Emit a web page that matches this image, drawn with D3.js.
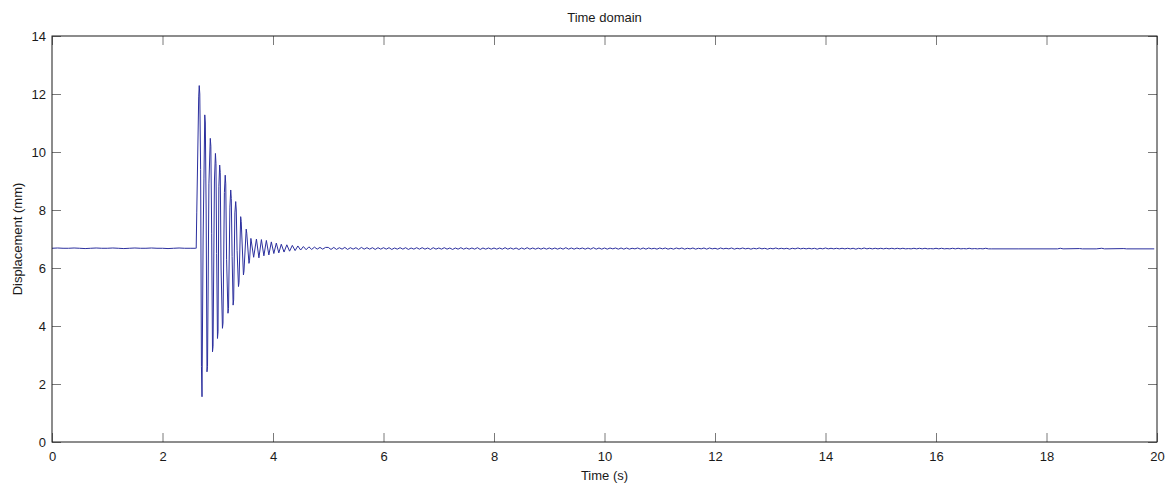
<!DOCTYPE html>
<html>
<head>
<meta charset="utf-8">
<script src="https://cdn.jsdelivr.net/npm/d3@7"></script>
<style>
  body { margin: 0; background: #fff; }
  svg { font-family: "Liberation Sans", Arial, sans-serif; }
</style>
</head>
<body>
<svg id="chart"></svg>
<script>
// ---- data ----
const xTicks = [0, 2, 4, 6, 8, 10, 12, 14, 16, 18, 20];
const yTicks = [0, 2, 4, 6, 8, 10, 12, 14];

// quiet baseline before the impact, one sample every 0.1 s from t = 0
const preValues = [6.68, 6.69, 6.68, 6.68, 6.69, 6.68, 6.67, 6.68, 6.69, 6.68,
                   6.68, 6.69, 6.68, 6.67, 6.68, 6.69, 6.68, 6.68, 6.69, 6.68,
                   6.68, 6.67, 6.68, 6.69, 6.68, 6.68, 6.68];

// the burst: [time (s), displacement (mm)]
const burst = [
  [2.61, 6.68], [2.62, 7.9], [2.655, 11.9], [2.665, 12.29], [2.675, 12.0], [2.69, 9.4],
  [2.705, 2.6], [2.715, 1.56], [2.735, 7.0], [2.75, 9.1], [2.765, 11.28], [2.775, 11.0], [2.79, 8.0],
  [2.805, 2.42], [2.815, 2.6], [2.84, 8.9], [2.865, 10.47], [2.875, 10.2], [2.89, 7.2], [2.905, 3.11],
  [2.915, 3.3], [2.94, 9.0], [2.958, 9.95], [2.968, 9.6], [2.98, 6.5], [2.995, 3.57], [3.005, 3.8],
  [3.02, 8.8], [3.035, 9.55], [3.045, 9.3], [3.06, 6.0], [3.085, 3.92], [3.095, 4.1], [3.12, 8.6],
  [3.135, 9.2], [3.145, 8.9], [3.16, 6.3], [3.185, 4.44], [3.195, 4.6], [3.22, 8.1],
  [3.235, 8.69], [3.245, 8.4], [3.26, 6.4], [3.278, 4.72], [3.288, 4.9], [3.31, 7.9],
  [3.325, 8.29], [3.335, 8.0], [3.35, 6.6], [3.375, 5.36], [3.385, 5.5],
  [3.415, 7.77], [3.425, 7.6], [3.465, 5.76], [3.475, 5.9], [3.515, 7.34], [3.525, 7.2],
  [3.565, 6.16], [3.575, 6.25], [3.60, 7.02], [3.65, 6.37], [3.70, 7.0], [3.745, 6.35],
  [3.79, 6.98], [3.835, 6.42], [3.88, 6.95], [3.925, 6.45], [3.97, 6.9], [4.015, 6.5],
  [4.06, 6.86], [4.105, 6.52], [4.15, 6.82], [4.2, 6.55], [4.25, 6.8], [4.3, 6.58],
  [4.35, 6.78], [4.4, 6.6], [4.45, 6.76], [4.5, 6.62], [4.55, 6.74],
  [4.6, 6.63], [4.65, 6.73], [4.7, 6.64], [4.75, 6.72], [4.8, 6.65],
  [4.85, 6.71], [4.9, 6.65], [4.95, 6.71]
];

// residual ringing at ~10 Hz: one crest (tailHi) and one trough (tailLo)
// per 0.1 s, crests from t = 5.0 to 16.9
const tailHi = [
  6.71, 6.71, 6.70, 6.71, 6.70, 6.70, 6.71, 6.70, 6.70, 6.70,
  6.70, 6.70, 6.69, 6.70, 6.70, 6.69, 6.70, 6.70, 6.69, 6.70,
  6.69, 6.70, 6.69, 6.69, 6.70, 6.69, 6.69, 6.70, 6.69, 6.69,
  6.69, 6.69, 6.70, 6.69, 6.69, 6.69, 6.70, 6.69, 6.69, 6.69,
  6.69, 6.69, 6.69, 6.70, 6.69, 6.69, 6.69, 6.69, 6.70, 6.69,
  6.69, 6.69, 6.69, 6.69, 6.69, 6.68, 6.69, 6.69, 6.69, 6.68,
  6.69, 6.69, 6.68, 6.69, 6.69, 6.68, 6.69, 6.68, 6.69, 6.69,
  6.68, 6.69, 6.68, 6.69, 6.68, 6.69, 6.68, 6.68, 6.69, 6.68,
  6.68, 6.69, 6.68, 6.68, 6.68, 6.69, 6.68, 6.68, 6.68, 6.68,
  6.69, 6.68, 6.68, 6.68, 6.68, 6.68, 6.68, 6.69, 6.68, 6.68,
  6.68, 6.68, 6.68, 6.68, 6.68, 6.67, 6.68, 6.68, 6.68, 6.67,
  6.68, 6.68, 6.67, 6.68, 6.68, 6.67, 6.68, 6.67, 6.67, 6.68
];
const tailLo = [
  6.64, 6.64, 6.65, 6.64, 6.65, 6.64, 6.65, 6.65, 6.64, 6.65,
  6.65, 6.64, 6.65, 6.65, 6.64, 6.65, 6.65, 6.65, 6.64, 6.65,
  6.65, 6.65, 6.64, 6.65, 6.65, 6.65, 6.65, 6.64, 6.65, 6.65,
  6.65, 6.65, 6.65, 6.65, 6.64, 6.65, 6.65, 6.65, 6.65, 6.65,
  6.65, 6.65, 6.65, 6.65, 6.65, 6.66, 6.65, 6.65, 6.65, 6.65,
  6.65, 6.66, 6.65, 6.65, 6.65, 6.66, 6.65, 6.65, 6.66, 6.65,
  6.66, 6.65, 6.65, 6.66, 6.65, 6.66, 6.65, 6.66, 6.65, 6.66,
  6.65, 6.66, 6.66, 6.65, 6.66, 6.66, 6.65, 6.66, 6.66, 6.65,
  6.66, 6.66, 6.66, 6.65, 6.66, 6.66, 6.66, 6.66, 6.65, 6.66,
  6.66, 6.66, 6.66, 6.66, 6.66, 6.65, 6.66, 6.66, 6.66, 6.66,
  6.66, 6.66, 6.66, 6.66, 6.66, 6.66, 6.66, 6.66, 6.66, 6.66,
  6.66, 6.66, 6.66, 6.66, 6.66, 6.66, 6.66, 6.66, 6.66, 6.66
];

// almost flat end with a few blips
const endPoints = [
  [17.0, 6.66], [17.5, 6.66], [18.2, 6.66], [18.25, 6.68], [18.3, 6.66], [18.6, 6.67],
  [18.65, 6.66], [18.9, 6.66], [19.0, 6.68], [19.05, 6.66], [19.4, 6.67],
  [19.45, 6.66], [19.95, 6.66]
];

// ---- layout ----
const width = 1167, height = 486;
const margin = {top: 36, right: 10, bottom: 44, left: 52};
const plotW = width - margin.left - margin.right;
const plotH = height - margin.top - margin.bottom;

const svg = d3.select('#chart')
  .attr('width', width)
  .attr('height', height);

const x = d3.scaleLinear().domain([0, 20]).range([0, plotW]);
const y = d3.scaleLinear().domain([0, 14]).range([plotH, 0]);

const g = svg.append('g')
  .attr('transform', `translate(${margin.left},${margin.top})`);

// assemble the series
const series = [];
preValues.forEach((v, i) => series.push([i * 0.1, v]));
burst.forEach(d => series.push(d));
tailHi.forEach((v, i) => {
  series.push([5.0 + i * 0.1, v]);
  series.push([5.05 + i * 0.1, tailLo[i]]);
});
endPoints.forEach(d => series.push(d));

g.append('path')
  .datum(series)
  .attr('fill', 'none')
  .attr('stroke', '#2b2f9e')
  .attr('stroke-width', 1)
  .attr('stroke-linejoin', 'round')
  .attr('d', d3.line().x(d => x(d[0])).y(d => y(d[1])));

// axes: ticks pointing inwards on all four sides
const tickLen = 9;
const fmt = d3.format('d');

const axBottom = g.append('g').attr('transform', `translate(0,${plotH})`)
  .call(d3.axisBottom(x).tickValues(xTicks).tickFormat(fmt).tickSizeInner(-tickLen).tickSizeOuter(0).tickPadding(10));
const axTop = g.append('g')
  .call(d3.axisTop(x).tickValues(xTicks).tickFormat('').tickSizeInner(-tickLen).tickSizeOuter(0));
const axLeft = g.append('g')
  .call(d3.axisLeft(y).tickValues(yTicks).tickFormat(fmt).tickSizeInner(-tickLen).tickSizeOuter(0).tickPadding(6));
const axRight = g.append('g').attr('transform', `translate(${plotW},0)`)
  .call(d3.axisRight(y).tickValues(yTicks).tickFormat('').tickSizeInner(-tickLen).tickSizeOuter(0));

[axBottom, axTop, axLeft, axRight].forEach(a => {
  a.select('.domain').remove();
  a.selectAll('.tick line').attr('stroke', '#7a7a7a');
  a.selectAll('.tick text').attr('fill', '#1a1a1a').style('font-size', '13px');
});

// box
g.append('rect')
  .attr('width', plotW)
  .attr('height', plotH)
  .attr('fill', 'none')
  .attr('stroke', '#1a1a1a')
  .attr('stroke-width', 1);

// labels
svg.append('text')
  .attr('x', margin.left + plotW / 2)
  .attr('y', 22)
  .attr('text-anchor', 'middle')
  .style('font-size', '13px')
  .attr('fill', '#1a1a1a')
  .text('Time domain');

svg.append('text')
  .attr('x', margin.left + plotW / 2)
  .attr('y', 480)
  .attr('text-anchor', 'middle')
  .style('font-size', '13px')
  .attr('fill', '#1a1a1a')
  .text('Time (s)');

svg.append('text')
  .attr('transform', `translate(22,${margin.top + plotH / 2}) rotate(-90)`)
  .attr('text-anchor', 'middle')
  .style('font-size', '13px')
  .attr('fill', '#1a1a1a')
  .text('Displacement (mm)');
</script>
</body>
</html>
